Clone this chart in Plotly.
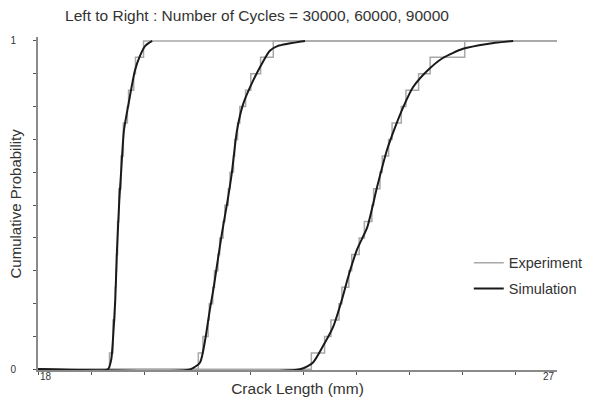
import plotly.graph_objects as go

# Simulated cumulative distributions of crack length (mm) for each cycle count
sim_30k_x = [19.21, 19.27, 19.30, 19.34, 19.37, 19.41, 19.44, 19.49, 19.58, 19.68, 19.77, 19.86, 19.98]
sim_30k_p = [0.0, 0.030, 0.091, 0.212, 0.364, 0.515, 0.597, 0.727, 0.818, 0.909, 0.955, 0.985, 1.0]

sim_60k_x = [20.64, 20.81, 20.90, 20.98, 21.04, 21.10, 21.19, 21.28, 21.36, 21.45, 21.56, 21.73, 21.88, 22.02, 22.16, 22.63]
sim_60k_p = [0.0, 0.021, 0.091, 0.182, 0.242, 0.312, 0.415, 0.506, 0.597, 0.727, 0.809, 0.879, 0.930, 0.970, 0.985, 1.0]

sim_90k_x = [22.54, 22.77, 22.94, 23.12, 23.27, 23.38, 23.53, 23.71, 23.88, 24.05, 24.19, 24.33, 24.50, 24.75,
             25.02, 25.37, 25.79, 26.24]
sim_90k_p = [0.0, 0.021, 0.070, 0.130, 0.212, 0.282, 0.364, 0.433, 0.555, 0.667, 0.736, 0.797, 0.858, 0.909,
             0.948, 0.976, 0.991, 1.0]

# Measured crack lengths (mm), sorted, for each cycle count
exp_30k = [19.24, 19.30, 19.30, 19.33, 19.34, 19.35, 19.36, 19.38, 19.38, 19.40,
           19.40, 19.44, 19.44, 19.48, 19.48, 19.55, 19.57, 19.66, 19.69, 19.83]
exp_60k = [20.78, 20.86, 20.95, 20.97, 21.03, 21.06, 21.12, 21.15, 21.21, 21.24,
           21.30, 21.33, 21.39, 21.41, 21.46, 21.50, 21.60, 21.69, 21.86, 22.08]
exp_90k = [22.74, 22.97, 23.08, 23.22, 23.27, 23.39, 23.44, 23.57, 23.66, 23.79,
           23.82, 23.93, 23.97, 24.08, 24.14, 24.30, 24.38, 24.60, 24.80, 25.40]

X_MIN, X_MAX = 18, 27
FONT = "Liberation Sans, Arial, sans-serif"
TEXT = "#333333"
AXIS = "#8a8a8a"
EXP_COLOR = "#a8a8a8"
SIM_COLOR = "#1a1a1a"


def ecdf(samples):
    n = len(samples)
    xs = [X_MIN] + list(samples) + [X_MAX]
    ps = [0.0] + [(i + 1) / n for i in range(n)] + [1.0]
    return xs, ps


fig = go.Figure()

# Experimental empirical CDFs (step lines)
for i, samples in enumerate([exp_30k, exp_60k, exp_90k]):
    xs, ps = ecdf(samples)
    fig.add_trace(go.Scatter(
        x=xs, y=ps, mode="lines", line=dict(color=EXP_COLOR, width=1.5, shape="hv"),
        name="Experiment", legendgroup="exp", showlegend=(i == 0),
    ))

# Simulated CDFs, drawn along zero from the left edge up to where they reach one
for i, (sx, sp) in enumerate([(sim_30k_x, sim_30k_p), (sim_60k_x, sim_60k_p), (sim_90k_x, sim_90k_p)]):
    fig.add_trace(go.Scatter(
        x=[X_MIN] + sx, y=[0.0] + sp, mode="lines",
        line=dict(color=SIM_COLOR, width=2, shape="spline", smoothing=0.6),
        name="Simulation", legendgroup="sim", showlegend=(i == 0),
    ))

fig.update_layout(
    width=590, height=400,
    margin=dict(l=38, r=33, t=37, b=30, autoexpand=False),
    paper_bgcolor="white", plot_bgcolor="white",
    font=dict(family=FONT, size=13, color=TEXT),
    title=dict(
        text="Left to Right : Number of Cycles = 30000, 60000, 90000",
        font=dict(family=FONT, size=15.5, color=TEXT),
        xref="paper", x=0.422, xanchor="center",
        yref="container", y=0.962, yanchor="middle",
    ),
    showlegend=True,
    legend=dict(
        x=0.83, y=0.37, xanchor="left", yanchor="top",
        bgcolor="rgba(0,0,0,0)", borderwidth=0,
        font=dict(family=FONT, size=14.5, color=TEXT),
        traceorder="grouped", tracegroupgap=4,
    ),
    xaxis=dict(
        range=[X_MIN, X_MAX], showgrid=False, zeroline=False, automargin=False,
        showline=True, linecolor=AXIS, linewidth=2,
        ticks="outside", ticklen=3, tickcolor="#555555", tickwidth=1,
        tickmode="linear", tick0=18, dtick=0.92, showticklabels=False,
        title=dict(text="Crack Length (mm)", font=dict(family=FONT, size=15.5, color=TEXT), standoff=9),
    ),
    yaxis=dict(
        range=[-0.002, 1.012], showgrid=False, zeroline=False, automargin=False,
        showline=True, linecolor=AXIS, linewidth=2,
        ticks="outside", ticklen=3, tickcolor="#555555", tickwidth=1,
        tickmode="array", tickvals=[i / 10 for i in range(11)],
        ticktext=["0"] + [""] * 9 + ["1"],
        tickfont=dict(family=FONT, size=10, color=TEXT), ticklabelstandoff=15,
    ),
)

# Vertical axis title, level with the 0/1 labels
fig.add_annotation(x=0, y=0.5, xref="paper", yref="paper", xshift=-23, text="Cumulative Probability",
                   textangle=-90, showarrow=False, xanchor="center", yanchor="middle",
                   font=dict(family=FONT, size=15, color=TEXT))

# End labels of the crack-length axis
fig.add_annotation(x=X_MIN, y=0, xref="x", yref="paper", yshift=-14, text="18",
                   showarrow=False, xanchor="left", font=dict(family=FONT, size=10, color=TEXT))
fig.add_annotation(x=X_MAX, y=0, xref="x", yref="paper", yshift=-14, text="27",
                   showarrow=False, xanchor="right", font=dict(family=FONT, size=10, color=TEXT))

fig.write_html("out.html")
